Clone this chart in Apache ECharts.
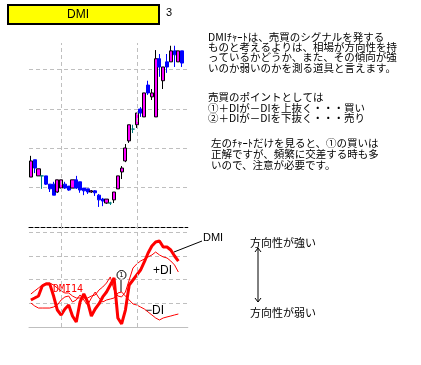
<!DOCTYPE html>
<html><head><meta charset="utf-8">
<script src="https://cdn.jsdelivr.net/npm/echarts@6/dist/echarts.min.js"></script>
<style>html,body{margin:0;padding:0;background:#fff}#c{width:421px;height:365px}</style>
</head><body><div id="c"></div>
<script>
// ---- data ----
const categories = ['1','2','3','4','5','6','7','8','9','10','11','12','13','14','15','16','17','18','19','20','21','22','23','24','25','26','27','28','29','30','31','32','33','34','35','36','37','38','39','40','41','42'];
const candleOpen  = [127,171,130,130,130,109,109,89,99,109,104,99,120,115,99,97,89,92,81,71,61,61,69,97,140,168,219,249,260,300,280,361,331,280,428,372,420,420,448,420,448];
const candleClose = [168,150,148,130,109,97,81,120,120,99,94,120,99,94,92,89,92,87,69,66,71,61,89,130,150,201,260,249,290,290,341,341,341,428,407,407,407,448,438,448,417];
const candleLow   = [127,137,130,97,107,89,81,87,99,97,92,99,97,87,81,84,87,79,51,53,59,56,61,97,122,165,214,239,252,280,280,336,323,280,382,351,392,420,407,420,407];
const candleHigh  = [181,171,148,130,130,109,115,120,120,115,104,120,130,115,99,97,94,94,84,74,71,64,89,130,155,211,260,260,290,305,341,372,351,450,440,407,440,461,461,448,448];
const dmiLine   = [28.5,30.6,32.7,43.3,45.4,45.4,32.7,17.9,12.7,19.0,23.2,11.6,5.3,26.4,34.8,26.4,11.6,19.0,24.3,31.7,36.9,44.3,51.7,9.5,3.2,17.9,44.3,49.6,54.9,60.1,68.6,78.1,85.5,89.7,90.7,84.4,84.4,81.2,74.9,69.6];
const plusDI    = [34.8,38.0,41.1,44.3,46.4,46.4,44.3,41.1,38.0,35.9,35.9,32.7,30.6,30.6,30.6,30.6,32.7,33.8,39.0,42.2,46.4,52.8,39.0,32.7,31.7,36.9,49.6,62.2,66.5,69.6,71.7,73.9,76.0,79.1,76.0,73.9,72.8,69.6,65.4,58.0];
const minusDI   = [25.3,22.2,20.0,20.0,20.0,20.0,21.1,23.2,28.5,31.7,32.7,26.4,28.5,33.8,28.5,23.2,30.6,36.9,30.6,26.4,28.5,29.5,30.6,35.9,36.9,32.7,28.5,24.3,23.2,21.1,19.0,15.8,12.7,9.5,7.4,9.5,10.6,11.6,12.7,13.7];
const vGridAt = [8, 28];

const candleData = candleOpen.map((o, i) => [o, candleClose[i], candleLow[i], candleHigh[i]]);

const CJK = '"Noto Sans CJK JP", sans-serif';
const SANS = '"Liberation Sans", Arial, sans-serif';
const gridDash = { color: '#BFBFBF', type: [4, 3], width: 1 };
const vMark = {
  silent: true, symbol: ['none', 'none'], label: { show: false }, animation: false,
  lineStyle: gridDash, emphasis: { disabled: true },
  data: vGridAt.map(i => ({ xAxis: i }))
};

const chart = echarts.init(document.getElementById('c'), null, { renderer: 'canvas' });
chart.setOption({
  animation: false,
  backgroundColor: '#ffffff',
  grid: [
    { left: 29, top: 43, width: 158.8, height: 184 },
    { left: 29, top: 227, width: 158.8, height: 100 }
  ],
  xAxis: [
    { type: 'category', data: categories, gridIndex: 0, boundaryGap: true,
      axisLine: { show: true, lineStyle: { color: '#000', type: [4, 2], width: 1 } },
      axisTick: { show: false }, axisLabel: { show: false }, splitLine: { show: false } },
    { type: 'category', data: categories, gridIndex: 1, boundaryGap: true,
      axisLine: { show: true, lineStyle: { color: '#BFBFBF', width: 1 } },
      axisTick: { show: false }, axisLabel: { show: false }, splitLine: { show: false } }
  ],
  yAxis: [
    { type: 'value', gridIndex: 0, min: 0, max: 468, interval: 100,
      axisLine: { show: false }, axisTick: { show: false }, axisLabel: { show: false },
      splitLine: { show: true, showMinLine: false, showMaxLine: false, lineStyle: gridDash } },
    { type: 'value', gridIndex: 1, min: 0, max: 105.5, interval: 25,
      axisLine: { show: false }, axisTick: { show: false }, axisLabel: { show: false },
      splitLine: { show: true, showMinLine: false, showMaxLine: false, lineStyle: gridDash } }
  ],
  series: [
    { type: 'candlestick', xAxisIndex: 0, yAxisIndex: 0, data: candleData, barWidth: 3.6,
      itemStyle: { color: '#FF00FF', color0: '#0000FF', borderColor: '#000000', borderColor0: '#0000FF',
                   borderColorDoji: '#008080', borderWidth: 1 },
      markLine: vMark },
    { type: 'line', name: '-DI', xAxisIndex: 1, yAxisIndex: 1, data: minusDI, showSymbol: false,
      lineStyle: { color: '#FF0000', width: 1 }, markLine: vMark },
    { type: 'line', name: '+DI', xAxisIndex: 1, yAxisIndex: 1, data: plusDI, showSymbol: false,
      lineStyle: { color: '#FF0000', width: 1 } },
    { type: 'line', name: 'DMI', xAxisIndex: 1, yAxisIndex: 1, data: dmiLine, showSymbol: false,
      lineStyle: { color: '#FF0000', width: 3 } }
  ],
  graphic: [
    { type: 'rect', shape: { x: 8, y: 5, width: 151, height: 19 }, style: { fill: '#FFFF00', stroke: '#000', lineWidth: 2 } },
    { type: 'text', x: 78, y: 15, style: { text: 'DMI', font: '12px ' + SANS, fill: '#000', align: 'center', verticalAlign: 'middle' } },
    { type: 'text', x: 166, y: 7, style: { text: '3', font: '11px ' + SANS, fill: '#000' } },
    { type: 'text', x: 208, y: 32, style: { text: 'DMIﾁｬｰﾄは、売買のシグナルを発する\nものと考えるよりは、相場が方向性を持\nっているかどうか、また、その傾向が強\nいのか弱いのかを測る道具と言えます。', font: '10.5px ' + CJK, lineHeight: 10.2, fill: '#000' } },
    { type: 'text', x: 208, y: 92, style: { text: '売買のポイントとしては\n①＋DIが－DIを上抜く・・・買い\n②＋DIが－DIを下抜く・・・売り', font: '10.5px ' + CJK, lineHeight: 10.5, fill: '#000' } },
    { type: 'text', x: 211, y: 138, style: { text: '左のﾁｬｰﾄだけを見ると、①の買いは\n正解ですが、頻繁に交差する時も多\nいので、注意が必要です。', font: '10.5px ' + CJK, lineHeight: 11, fill: '#000' } },
    { type: 'text', x: 53, y: 284, style: { text: 'DMI14', font: '10px "DejaVu Sans Mono", monospace', fill: '#FF0000' } },
    { type: 'line', shape: { x1: 121, y1: 279.5, x2: 121, y2: 292 }, style: { stroke: '#000', lineWidth: 1 } },
    { type: 'circle', shape: { cx: 121.5, cy: 275, r: 4.5 }, style: { fill: '#fff', stroke: '#000', lineWidth: 1 } },
    { type: 'text', x: 121.5, y: 275.5, style: { text: '1', font: '7px ' + SANS, fill: '#000', align: 'center', verticalAlign: 'middle' } },
    { type: 'text', x: 153, y: 265, style: { text: '+DI', font: '12px ' + SANS, fill: '#000' } },
    { type: 'text', x: 145, y: 305, style: { text: '−DI', font: '12px ' + SANS, fill: '#000' } },
    { type: 'line', shape: { x1: 174, y1: 252, x2: 202, y2: 241 }, style: { stroke: '#000', lineWidth: 1 } },
    { type: 'text', x: 203, y: 232, style: { text: 'DMI', font: '11px ' + SANS, fill: '#000' } },
    { type: 'text', x: 250, y: 237, style: { text: '方向性が強い', font: '11px ' + CJK, fill: '#000' } },
    { type: 'text', x: 250, y: 307, style: { text: '方向性が弱い', font: '11px ' + CJK, fill: '#000' } },
    { type: 'line', shape: { x1: 258, y1: 248, x2: 258, y2: 302 }, style: { stroke: '#000', lineWidth: 1 } },
    { type: 'polyline', shape: { points: [[255, 252], [258, 248], [261, 252]] }, style: { stroke: '#000', lineWidth: 1, fill: null } },
    { type: 'polyline', shape: { points: [[255, 298], [258, 302], [261, 298]] }, style: { stroke: '#000', lineWidth: 1, fill: null } }
  ]
});
</script></body></html>
